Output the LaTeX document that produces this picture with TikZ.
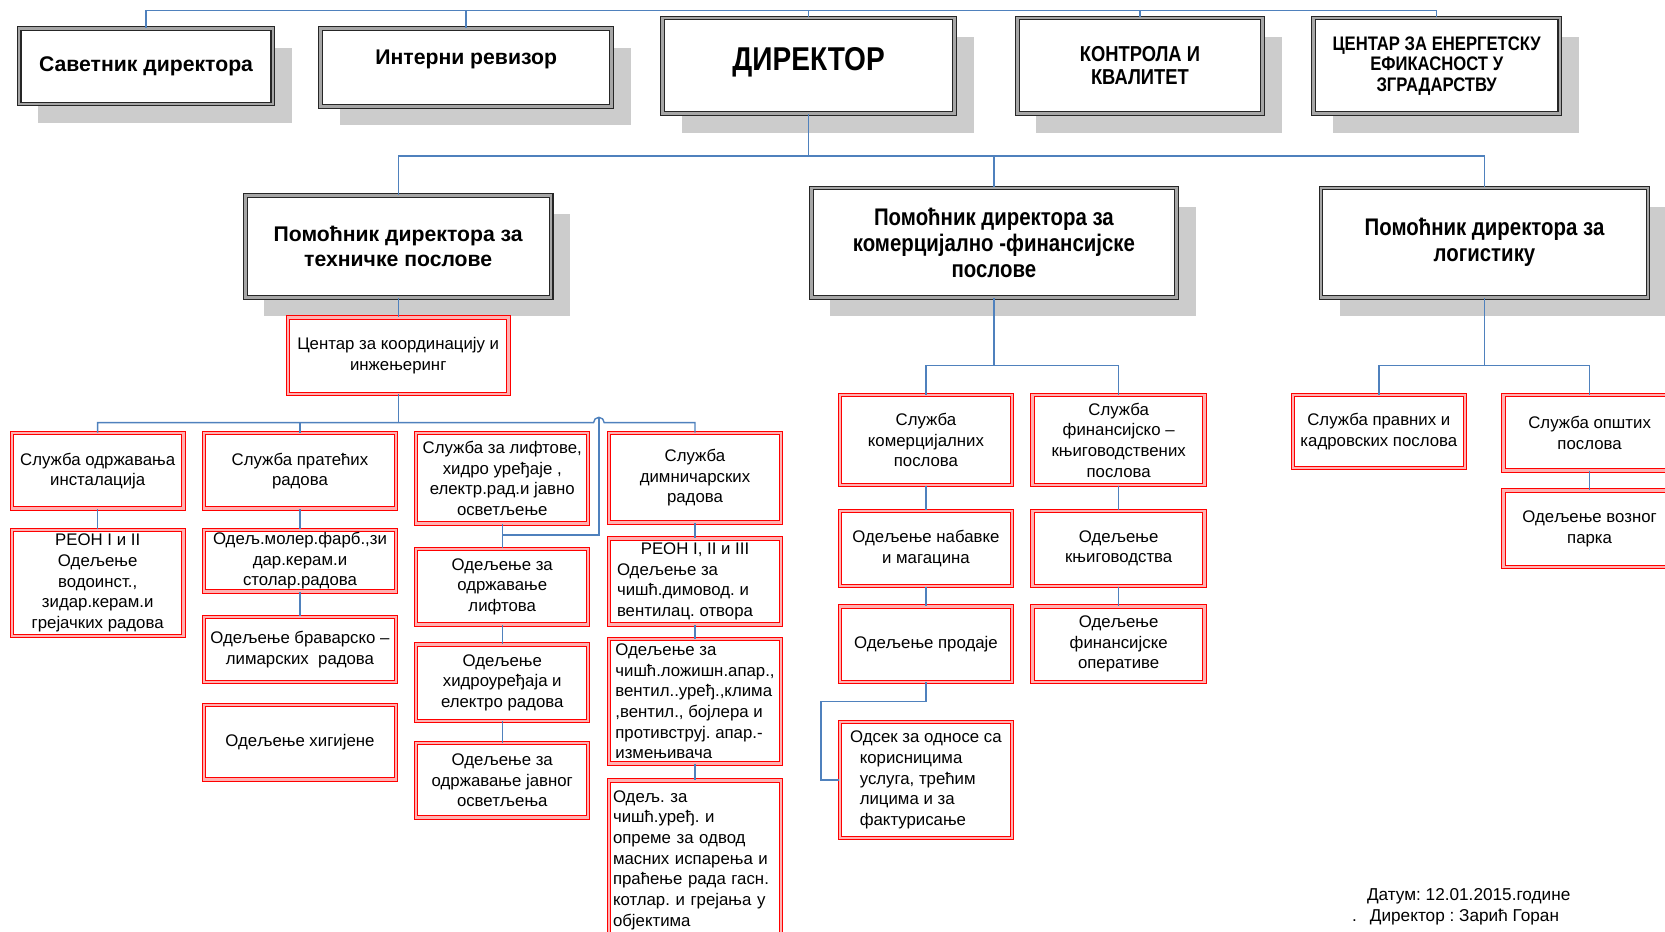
\documentclass[tikz,border=0pt]{standalone}
\usepackage{fontspec}
\setmainfont{Liberation Sans}
\newfontfamily\narrowfont[FakeStretch=0.85]{Liberation Sans}
\usepackage{tikz}
\usetikzlibrary{shadows}
\definecolor{linkblue}{HTML}{4F81BD}
\frenchspacing

\begin{document}
\begin{tikzpicture}[x=0.531pt, y=-0.531pt,
	  headbox/.style={draw=black!85, double=black!35, double distance=1.3pt, line width=0.55pt,
	    fill=white, align=center, inner sep=2pt,
	    general shadow={fill=black!20, shadow xshift=9.5pt, shadow yshift=-9.5pt}},
	  headfont/.style={font=\fontsize{10.6}{12.7}\selectfont\bfseries},
	  narrowhead/.style={font=\narrowfont\fontsize{12}{13}\selectfont\bfseries},
	  unitbox/.style={draw=red, double=red!30, double distance=1.2pt, line width=0.5pt,
	    fill=white, minimum width=86pt, align=center, inner sep=1pt,
	    font=\fontsize{8.4}{10.35}\selectfont},
	  widebox/.style={unitbox, minimum width=96pt},
	  link/.style={draw=linkblue, line width=0.7pt}]

	\useasboundingbox (0,0) rectangle (1568,877);

	\node[headbox, headfont, minimum width=126.9pt, minimum height=37.7pt] (sav) at (137.5,62.5) {Саветник директора};
	\node[headbox, headfont, minimum width=145.5pt, minimum height=38.8pt, text depth=10pt] (int) at (439,63.5) {Интерни ревизор};
	\node[headbox, font=\narrowfont\fontsize{16.5}{18}\selectfont\bfseries, minimum width=146pt, minimum height=47.8pt, text depth=7pt] (dir) at (761.5,62) {ДИРЕКТОР};
	\node[headbox, font=\narrowfont\fontsize{10.8}{11.7}\selectfont\bfseries, minimum width=122.7pt, minimum height=47.8pt] (ctrl) at (1073.5,62) {КОНТРОЛА И\\КВАЛИТЕТ};
	\node[headbox, font=\narrowfont\fontsize{9.8}{10.35}\selectfont\bfseries, minimum width=123.2pt, minimum height=47.8pt] (ene) at (1353,62) {ЦЕНТАР ЗА ЕНЕРГЕТСКУ\\ЕФИКАСНОСТ У\\ЗГРАДАРСТВУ};

	\node[headbox, headfont, minimum width=153pt, minimum height=51pt] (tech) at (375,232) {Помоћник директора за\\техничке послове};
	\node[headbox, narrowhead, minimum width=182.7pt, minimum height=54.7pt] (comm) at (936,228.5) {Помоћник директора за\\комерцијално -финансијске\\послове};
	\node[headbox, narrowhead, minimum width=163.5pt, minimum height=54.7pt] (log) at (1398,228.5) {Помоћник директора за\\логистику};

	\node[unitbox, minimum width=110.4pt, minimum height=38.2pt] (coord) at (375,335) {Центар за координацију и\\инжењеринг};

	\node[unitbox, minimum height=37.7pt] (sl1) at (92,443.5) {Служба одржавања\\инсталација};
	\node[unitbox, minimum height=53pt] (reon12) at (92,549) {РЕОН I и II\\Одељење\\водоинст.,\\зидар.керам.и\\грејачких радова};

	\node[widebox, minimum height=37.7pt] (sl2) at (282.5,443.5) {Служба пратећих\\радова};
	\node[widebox, minimum height=30.8pt, inner ysep=0pt] (moler) at (282.5,528) {Одељ.молер.фарб.,зи\\дар.керам.и\\столар.радова};
	\node[widebox, minimum height=32.4pt] (brav) at (282.5,611.5) {Одељење браварско –\\лимарских\ \ радова};
	\node[widebox, minimum height=37.2pt] (hig) at (282.5,699) {Одељење хигијене};

	\node[unitbox, minimum height=45.1pt, inner ysep=0pt] (sl3) at (473,450.5) {Служба за лифтове,\\хидро уређаје ,\\електр.рад.и јавно\\осветљење};
	\node[unitbox, minimum height=37.7pt] (odlift) at (473,552.5) {Одељење за\\одржавање\\лифтова};
	\node[unitbox, minimum height=38.2pt] (hidro) at (473,643) {Одељење\\хидроуређаја и\\електро радова};
	\node[unitbox, minimum height=37.2pt] (javno) at (473,735) {Одељење за\\одржавање јавног\\осветљења};

	\node[unitbox, minimum height=44.6pt] (sl4) at (654.5,450) {Служба\\димничарских\\радова};
	\node[unitbox, minimum height=43pt, inner ysep=0pt, align=left] (reon123) at (654.5,547.5) {\makebox[78pt][c]{РЕОН I, II и III}\\Одељење за\\чишћ.димовод. и\\вентилац. отвора};
	\node[unitbox, minimum height=62.1pt, inner ysep=0pt, align=left] (lozis) at (654.5,660.5) {Одељење за\\чишћ.ложишн.апар.,\\вентил..уређ.,клима\\,вентил., бојлера и\\противструј. апар.-\\измењивача};
	\node[unitbox, minimum height=79.6pt, align=left, text width=82pt] (masni) at (654.5,810) {Одељ. за\\чишћ.уређ. и\\опреме за одвод\\масних испарења и\\праћење рада гасн.\\котлар. и грејања у\\објектима};

	\node[unitbox, minimum height=45.1pt] (kom) at (872,414.5) {Служба\\комерцијалних\\послова};
	\node[unitbox, minimum height=37.7pt] (nab) at (872,516.5) {Одељење набавке\\и магацина};
	\node[unitbox, minimum height=37.7pt] (prod) at (872,606.5) {Одељење продаје};
	\node[unitbox, minimum height=57.9pt, align=left] (odsek) at (872,734.5) {Одсек за односе са\\\hspace*{4.8pt}корисницима\\\hspace*{4.8pt}услуга, трећим\\\hspace*{4.8pt}лицима и за\\\hspace*{4.8pt}фактурисање};

	\node[unitbox, minimum height=45.1pt, inner ysep=0pt] (fin) at (1053.5,414.5) {Служба\\финансијско –\\књиговодствених\\послова};
	\node[unitbox, minimum height=37.7pt] (knj) at (1053.5,516.5) {Одељење\\књиговодства};
	\node[unitbox, minimum height=37.7pt] (oper) at (1053.5,606.5) {Одељење\\финансијске\\оперативе};

	\node[unitbox, minimum height=36.6pt] (prav) at (1298.5,406.5) {Служба правних и\\кадровских послова};
	\node[unitbox, minimum height=37.7pt] (opst) at (1497,407.5) {Служба општих\\послова};
	\node[unitbox, minimum height=38.2pt] (vozni) at (1497,498) {Одељење возног\\парка};

	\node[anchor=west, inner sep=0pt, font=\fontsize{8.6}{10.35}\selectfont] (datum) at (1287,844) {Датум: 12.01.2015.године};
	\node[anchor=west, inner sep=0pt, font=\fontsize{8.6}{10.35}\selectfont] (potpis) at (1273,864) {.\hspace{6.5pt}Директор : Зарић Горан};

	\coordinate (topbus) at (0,10);
	\coordinate (bus2) at (0,147);
	\coordinate (bus3) at (0,398);
	\coordinate (bus4) at (0,344);
	\coordinate (hopl) at (559,398);
	\coordinate (hoptop) at (564,393);
	\coordinate (liftjoin) at (473,504);
	\coordinate (odsekin) at (773,734.5);

	\draw[link] (sav.north) |- (ene.north |- topbus) -- (ene.north);
	\draw[link] (int.north) -- (int.north |- topbus);
	\draw[link] (dir.north) -- (dir.north |- topbus);
	\draw[link] (ctrl.north) -- (ctrl.north |- topbus);

	\draw[link] (dir.south) -- (dir.south |- bus2);
	\draw[link] (tech.north) |- (log.north |- bus2) -- (log.north);
	\draw[link] (comm.north) -- (comm.north |- bus2);

	\draw[link] (tech.south) -- (coord.north);
	\draw[link] (coord.south) -- (coord.south |- bus3);
	\draw[link] (sl1.north) |- (hopl) arc[start angle=180, end angle=0, radius=2.65pt] -| (sl4.north);
	\draw[link] (sl2.north) -- (sl2.north |- bus3);
	\draw[link] (hoptop) |- (liftjoin);

	\draw[link] (sl1.south) -- (reon12.north);
	\draw[link] (sl2.south) -- (moler.north);
	\draw[link] (moler.south) -- (brav.north);
	\draw[link] (sl3.south) -- (odlift.north);
	\draw[link] (odlift.south) -- (hidro.north);
	\draw[link] (hidro.south) -- (javno.north);
	\draw[link] (sl4.south) -- (reon123.north);
	\draw[link] (reon123.south) -- (lozis.north);
	\draw[link] (lozis.south) -- (masni.north);

	\draw[link] (comm.south) -- (comm.south |- bus4);
	\draw[link] (kom.north) |- (fin.north |- bus4) -- (fin.north);
	\draw[link] (kom.south) -- (nab.north);
	\draw[link] (nab.south) -- (prod.north);
	\draw[link] (prod.south) -- ++(0,18) -| (odsekin) -- (odsek.west);
	\draw[link] (fin.south) -- (knj.north);
	\draw[link] (knj.south) -- (oper.north);

	\draw[link] (log.south) -- (log.south |- bus4);
	\draw[link] (prav.north) |- (opst.north |- bus4) -- (opst.north);
	\draw[link] (opst.south) -- (vozni.north);
\end{tikzpicture}
\end{document}
